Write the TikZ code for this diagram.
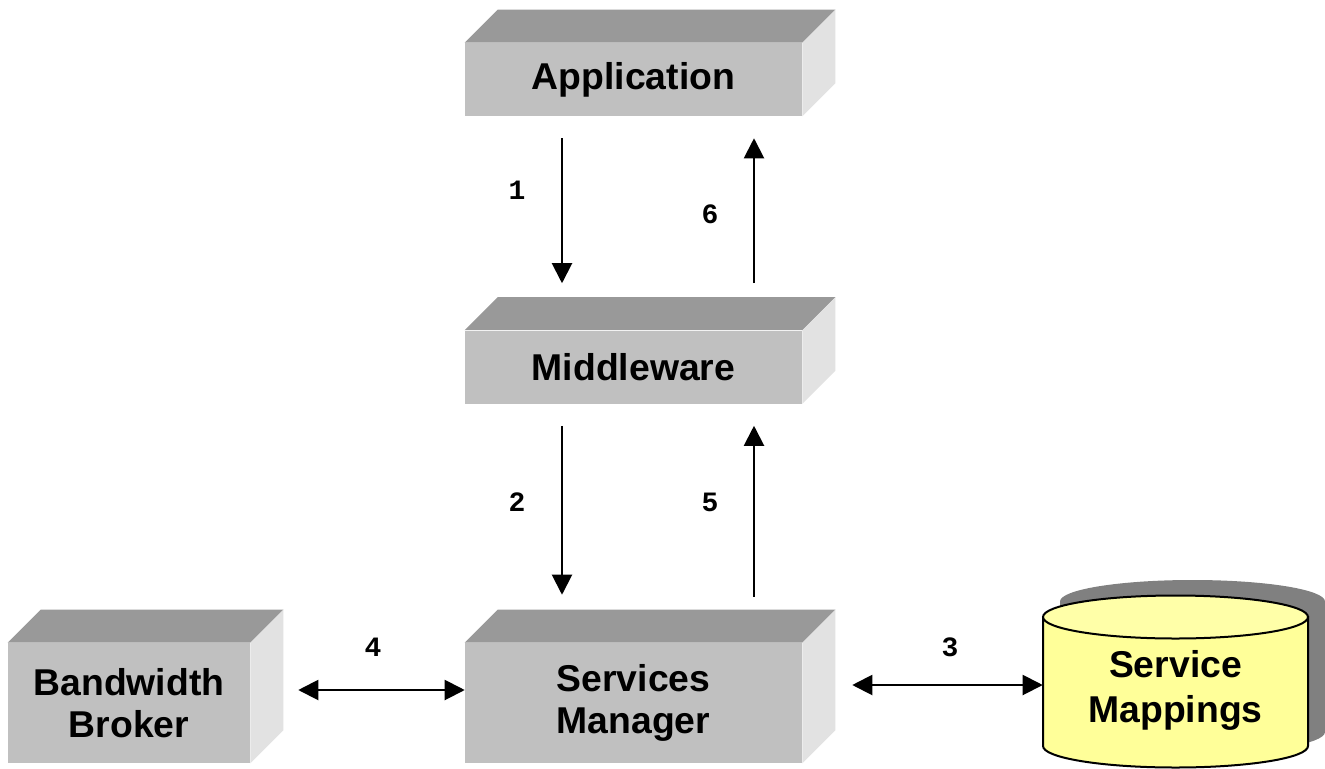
\documentclass[tikz,border=0pt]{standalone}
\usepackage{fontspec}
\setmainfont{Liberation Sans}
\newfontfamily\numfont{Liberation Mono}
\usetikzlibrary{arrows.meta,calc}

\definecolor{topgray}{HTML}{999999}
\definecolor{frontgray}{HTML}{C0C0C0}
\definecolor{sidegray}{HTML}{E2E2E2}
\definecolor{shadegray}{HTML}{808080}
\definecolor{mapyellow}{HTML}{FFFF99}

\begin{document}
\begin{tikzpicture}[x=0.75pt,y=-0.75pt,
  block/.style={fill=frontgray,inner sep=0pt,align=center,
    font=\fontsize{28}{31.5}\selectfont\bfseries},
  conn/.style={line width=1.5pt,-{Triangle[length=15pt,width=15pt]}},
  both/.style={line width=1.5pt,
    {Triangle[length=15pt,width=15pt]}-{Triangle[length=15pt,width=15pt]}},
  num/.style={font=\numfont\bfseries\fontsize{21}{21}\selectfont}]
\useasboundingbox[fill=white] (0,0) rectangle (1325,768);
% boxes
\node[block,minimum width=252.75pt,minimum height=54.75pt] (app) at (633.5,79.5) {Application};
\node[block,minimum width=252.75pt,minimum height=54.75pt] (mid) at (633.5,367) {Middleware};
\node[block,minimum width=252.75pt,minimum height=90pt] (sm) at (633.5,703) {Services\\Manager};
\node[block,minimum width=181.5pt,minimum height=90pt] (bb) at (129,703) {Bandwidth\\Broker};
\foreach \n in {app,mid,sm,bb}{
  \fill[topgray] (\n.north west) -- ++(33,-33) -- ($(\n.north east)+(33,-33)$)
    -- (\n.north east) -- cycle;
  \fill[sidegray] (\n.north east) -- ++(33,-33) -- ($(\n.south east)+(33,-33)$)
    -- (\n.south east) -- cycle;
}
% database
\fill[shadegray] (1192.5,601.5) ellipse [x radius=132.5,y radius=21.5];
\fill[shadegray] (1060,601.5) rectangle (1325,732);
\fill[shadegray] (1192.5,732) ellipse [x radius=132.5,y radius=21.5];
\filldraw[fill=mapyellow,line width=1.5pt] (1043,617) -- (1043,746)
  arc [start angle=180,end angle=0,x radius=132.5,y radius=21.5] -- (1308,617) -- cycle;
\filldraw[fill=mapyellow!85!white,line width=1.5pt] (1175.5,617) ellipse [x radius=132.5,y radius=21.5];
\node[inner sep=0pt,minimum width=198.75pt,minimum height=90pt,align=center,
  font=\fontsize{28}{33.75}\selectfont\bfseries] (map) at (1175.5,690) {Service\\Mappings};
% arrows
\draw[conn] ($(app.south)+(-71.5,22)$) -- ($(mid.north)+(-71.5,-47)$);
\draw[conn] ($(mid.north)+(120.5,-47)$) -- ($(app.south)+(120.5,22)$);
\draw[conn] ($(mid.south)+(-71.5,22)$) -- ($(sm.north)+(-71.5,-48)$);
\draw[conn] ($(sm.north)+(120.5,-46)$) -- ($(mid.south)+(120.5,22)$);
\draw[both] ($(bb.east)+(48,-13)$) -- ($(sm.west)+(0,-13)$);
\draw[both] ($(sm.east)+(50,-18)$) -- ($(map.west)+(0,-5)$);
% labels
\node[num] (n1) at (517,190) {1};
\node[num] (n6) at (710,214) {6};
\node[num] (n2) at (517,502) {2};
\node[num] (n5) at (710,502) {5};
\node[num] (n4) at (373,647) {4};
\node[num] (n3) at (950,647) {3};
\end{tikzpicture}
\end{document}
